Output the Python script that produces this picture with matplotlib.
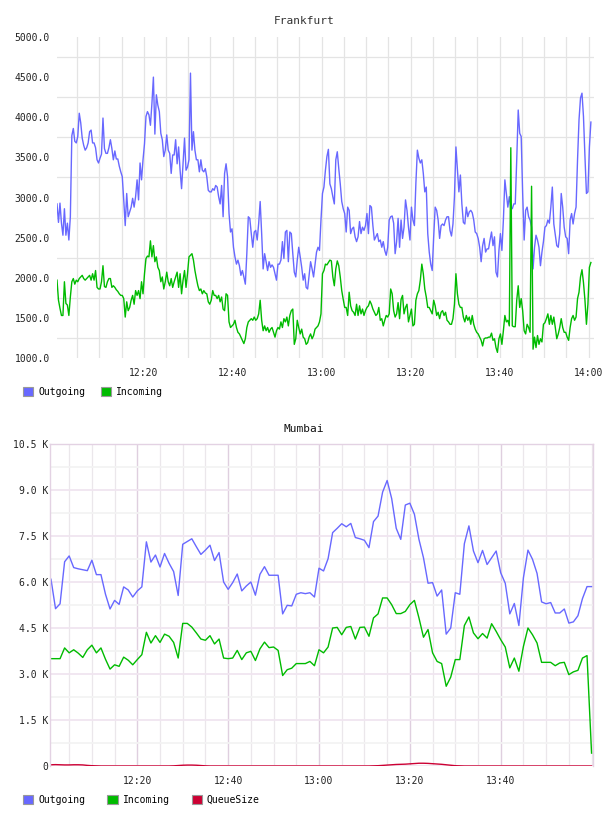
import matplotlib
matplotlib.use("Agg")
import matplotlib.pyplot as plt
import matplotlib.dates as mdates
from matplotlib.patches import Patch
from matplotlib.ticker import FuncFormatter
from datetime import datetime, timedelta
import numpy as np

# Frankfurt, one value every 20 s from 12:00:30 (one row = 5 minutes)
fra_out = [
    2920, 2690, 2930, 2680, 2530, 2860, 2530, 2680, 2470, 2760, 3770, 3860, 3700, 3680,
    3760, 4050, 3930, 3740, 3650, 3590, 3620, 3680, 3820, 3840, 3680, 3680, 3620, 3470, 3430,
    3490, 3540, 3990, 3610, 3550, 3550, 3620, 3720, 3610, 3470, 3580, 3480, 3480, 3390, 3320,
    3260, 2970, 2650, 3050, 2760, 2820, 2880, 2990, 2880, 3010, 3220, 2970, 3430, 3220, 3470,
    3670, 4010, 4070, 4030, 3900, 4170, 4500, 3790, 4280, 4150, 4070, 3800, 3720, 3510, 3590,
    3780, 3590, 3550, 3300, 3530, 3530, 3720, 3420, 3630, 3340, 3110, 3430, 3740, 3340, 3380,
    3470, 4550, 3590, 3820, 3590, 3470, 3470, 3320, 3470, 3340, 3320, 3360, 3260, 3090, 3070,
    3070, 3110, 3090, 3150, 3130, 3010, 2920, 3150, 2760, 3300, 3420, 3260, 2800, 2570, 2610,
    2380, 2260, 2170, 2220, 2150, 2030, 2090, 2010, 1920, 2300, 2760, 2740, 2550, 2380, 2570,
    2590, 2470, 2680, 2950, 2550, 2110, 2300, 2200, 2090, 2200, 2130, 2160, 2130, 2050, 1970,
    2170, 2170, 2220, 2450, 2240, 2570, 2590, 2200, 2570, 2550, 2300, 2070, 2010, 2220, 2380,
    2260, 2130, 1970, 2050, 1880, 1860, 2030, 2200, 2110, 2010, 2170, 2320, 2380, 2340, 2720,
    3050, 3130, 3340, 3510, 3600, 3170, 3110, 3010, 2920, 3470, 3570, 3360, 3170, 2950, 2860,
    2800, 2570, 2880, 2840, 2550, 2610, 2630, 2510, 2450, 2510, 2700, 2550, 2630, 2590, 2650,
    2800, 2550, 2900, 2880, 2650, 2470, 2510, 2550, 2450, 2470, 2380, 2450, 2340, 2280, 2380,
    2720, 2760, 2770, 2680, 2300, 2450, 2740, 2380, 2720, 2490, 2630, 2970, 2840, 2630, 2470,
    2880, 2720, 2650, 3180, 3590, 3490, 3430, 3470, 3300, 3070, 3130, 2550, 2320, 2170, 2090,
    2510, 2880, 2840, 2720, 2490, 2650, 2670, 2650, 2720, 2760, 2760, 2590, 2520, 2670, 3010,
    3630, 3340, 3070, 3280, 2920, 2690, 2670, 2880, 2760, 2820, 2840, 2810, 2720, 2570, 2550,
    2490, 2380, 2200, 2400, 2490, 2320, 2360, 2360, 2470, 2570, 2400, 2510, 2070, 2010, 2340,
    2550, 2340, 2720, 3220, 3050, 2880, 3010, 2880, 2860, 2920, 2920, 3470, 4090, 3800, 3760,
    3050, 2470, 2840, 2880, 2760, 2720, 2630, 2110, 2380, 2530, 2470, 2380, 2150, 2320, 2450,
    2630, 2650, 2720, 2680, 2880, 3130, 2670, 2530, 2400, 2380, 2550, 3050, 2880, 2630, 2510,
    2490, 2300, 2720, 2800, 2670, 2800, 2880, 3470, 3970, 4240, 4300, 4010, 3510, 3050, 3070,
    3630, 3940,
]
fra_in = [
    1970, 1720, 1620, 1530, 1530, 1950, 1680, 1660, 1530, 1760, 1950, 1990, 1920, 1970,
    1950, 1990, 2010, 2030, 1990, 1970, 1990, 2010, 2030, 1970, 2050, 1970, 2090, 1880, 1860,
    1860, 1950, 2150, 1890, 1880, 1950, 1990, 1990, 1880, 1900, 1880, 1850, 1830, 1800, 1780,
    1780, 1740, 1510, 1700, 1590, 1630, 1720, 1780, 1670, 1840, 1780, 1840, 1740, 1950, 1800,
    2050, 2240, 2270, 2260, 2460, 2260, 2400, 2200, 2260, 2130, 2090, 1950, 2010, 1860, 1950,
    2070, 1950, 1900, 1990, 1880, 1950, 2010, 2070, 1880, 2050, 1800, 1970, 2090, 1880, 2050,
    2260, 2280, 2300, 2220, 2090, 1990, 1900, 1840, 1860, 1800, 1840, 1810, 1800, 1700, 1670,
    1720, 1840, 1780, 1780, 1740, 1780, 1700, 1760, 1610, 1590, 1800, 1780, 1450, 1380, 1400,
    1420, 1470, 1380, 1320, 1300, 1260, 1220, 1180, 1240, 1380, 1450, 1470, 1490, 1470, 1510,
    1470, 1490, 1550, 1720, 1470, 1340, 1400, 1340, 1380, 1320, 1360, 1380, 1320, 1260, 1340,
    1380, 1360, 1450, 1380, 1490, 1450, 1510, 1400, 1530, 1590, 1610, 1170, 1240, 1470, 1380,
    1300, 1360, 1260, 1240, 1170, 1190, 1260, 1300, 1240, 1280, 1360, 1380, 1400, 1450, 1550,
    2050, 2090, 2170, 2160, 2190, 2220, 2210, 2010, 1900, 2110, 2210, 2150, 2010, 1840, 1730,
    1630, 1630, 1530, 1820, 1650, 1590, 1570, 1530, 1670, 1530, 1650, 1550, 1610, 1530, 1590,
    1630, 1650, 1710, 1670, 1610, 1570, 1530, 1550, 1630, 1470, 1490, 1400, 1470, 1530, 1510,
    1550, 1860, 1800, 1590, 1510, 1550, 1690, 1490, 1730, 1780, 1550, 1630, 1670, 1450, 1530,
    1610, 1400, 1420, 1720, 1800, 1840, 1970, 2170, 2050, 1860, 1760, 1630, 1630, 1590, 1550,
    1720, 1650, 1530, 1570, 1490, 1570, 1590, 1530, 1570, 1470, 1450, 1420, 1420, 1490, 1670,
    2050, 1800, 1670, 1630, 1630, 1510, 1450, 1530, 1470, 1510, 1420, 1530, 1420, 1360, 1320,
    1300, 1260, 1220, 1150, 1240, 1250, 1250, 1260, 1260, 1310, 1220, 1240, 1130, 1070, 1240,
    1300, 1170, 1340, 1530, 1450, 1470, 1400, 3620, 1400, 1390, 1390, 1720, 1900, 1630, 1740,
    1590, 1340, 1300, 1420, 1380, 1320, 3140, 1110, 1260, 1130, 1280, 1170, 1240, 1200, 1420,
    1440, 1490, 1550, 1420, 1530, 1420, 1510, 1380, 1240, 1300, 1380, 1490, 1380, 1320, 1320,
    1260, 1220, 1380, 1490, 1530, 1470, 1510, 1740, 1820, 2010, 2100, 1940, 1720, 1420, 1670,
    2130, 2190,
]

# Mumbai, one value per minute from 12:01 to 14:00
mum_out = [
    6090, 5130, 5290, 6660, 6850, 6470, 6430, 6400, 6370, 6710,
    6240, 6240, 5600, 5120, 5400, 5270, 5840, 5740, 5510, 5710,
    5840, 7310, 6650, 6880, 6490, 6930, 6610, 6340, 5560, 7230,
    7320, 7410, 7150, 6900, 7040, 7200, 6700, 6960, 6000, 5760,
    5980, 6260, 5710, 5870, 6000, 5570, 6250, 6500, 6220, 6220,
    6220, 4960, 5240, 5220, 5600, 5650, 5620, 5650, 5510, 6450,
    6360, 6760, 7610, 7750, 7900, 7800, 7910, 7450, 7410, 7360,
    7120, 7970, 8150, 8930, 9310, 8720, 7750, 7390, 8510, 8570,
    8210, 7390, 6790, 5960, 5980, 5540, 5740, 4300, 4500, 5650,
    5600, 7250, 7830, 7010, 6630, 7030, 6570, 6790, 7010, 6300,
    5960, 4960, 5300, 4580, 6140, 7040, 6740, 6280, 5350, 5290,
    5330, 4990, 4990, 5120, 4660, 4700, 4900, 5460, 5850, 5850,
]
mum_in = [
    3500, 3500, 3500, 3850, 3690, 3790, 3680, 3540, 3790, 3940,
    3690, 3850, 3480, 3160, 3300, 3250, 3550, 3450, 3300, 3470,
    3630, 4360, 4010, 4250, 4030, 4300, 4230, 4030, 3520, 4650,
    4650, 4530, 4340, 4140, 4100, 4250, 3980, 4140, 3520, 3500,
    3520, 3770, 3470, 3690, 3740, 3440, 3820, 4040, 3860, 3880,
    3770, 2950, 3140, 3190, 3340, 3340, 3340, 3410, 3270, 3790,
    3690, 3880, 4500, 4520, 4280, 4520, 4550, 4140, 4520, 4530,
    4230, 4830, 4960, 5480, 5480, 5260, 4970, 4970, 5040, 5260,
    5400, 4830, 4200, 4450, 3690, 3410, 3340, 2600, 2900, 3470,
    3470, 4580, 4860, 4340, 4150, 4320, 4170, 4640, 4390, 4120,
    3880, 3200, 3520, 3090, 3900, 4500, 4280, 4010, 3380, 3380,
    3380, 3270, 3360, 3380, 2980, 3070, 3120, 3520, 3600, 420,
]
mum_queue = [
    40, 45, 40, 35, 35, 40, 40, 35, 20, 10,
    5, 0, 0, 0, 0, 0, 0, 0, 0, 0,
    0, 0, 0, 0, 0, 0, 0, 5, 15, 25,
    30, 30, 25, 15, 5, 0, 0, 0, 0, 0,
    0, 0, 0, 0, 0, 0, 0, 0, 0, 0,
    0, 0, 0, 0, 0, 0, 0, 0, 0, 0,
    0, 0, 0, 0, 0, 0, 0, 0, 0, 0,
    0, 5, 10, 20, 30, 40, 50, 55, 60, 70,
    80, 90, 90, 85, 75, 65, 55, 40, 25, 10,
    5, 0, 0, 0, 0, 0, 0, 0, 0, 0,
    0, 0, 0, 0, 0, 0, 0, 0, 0, 0,
    0, 0, 0, 0, 0, 0, 0, 0, 0, 0,
]

day = datetime(2000, 1, 1)
noon = day + timedelta(hours=12)


def stamps(start, step, n):
    return [start + i * step for i in range(n)]


def hm(minutes):
    return [noon + timedelta(minutes=m) for m in minutes]


BLUE = "#6868ff"
GREEN = "#00bb00"
RED = "#cc0033"
MONO = "DejaVu Sans Mono"

W, H = 608, 816
fig = plt.figure(figsize=(W / 100, H / 100), dpi=100)


def box(l, t, r, b):
    return [l / W, 1 - b / H, (r - l) / W, (b - t) / H]


# ---- Frankfurt ----
ax1 = fig.add_axes(box(57, 37, 594, 358))
t_fra = stamps(noon + timedelta(seconds=30), timedelta(seconds=20), len(fra_out))
t_fra_in = stamps(noon + timedelta(seconds=30), timedelta(seconds=20), len(fra_in))
ax1.plot(t_fra, fra_out, color=BLUE, lw=1.0)
ax1.plot(t_fra_in, fra_in, color=GREEN, lw=1.0)
ax1.set_xlim(noon + timedelta(seconds=30), noon + timedelta(minutes=121, seconds=12))
ax1.set_ylim(1000, 5000)
ax1.set_yticks(np.arange(1000, 5001, 500))
ax1.set_yticks(np.arange(1250, 5000, 500), minor=True)
ax1.yaxis.set_major_formatter(FuncFormatter(lambda v, p: f"{v:.1f}"))
ax1.set_xticks(hm([20, 40, 60, 80, 100, 120]))
ax1.xaxis.set_minor_locator(mdates.MinuteLocator(byminute=range(0, 60, 5)))
ax1.xaxis.set_major_formatter(mdates.DateFormatter("%H:%M"))
ax1.grid(axis="x", which="both", color="#e4e4e4", lw=0.9)
ax1.grid(axis="y", which="minor", color="#e4e4e4", lw=0.9)
ax1.set_axisbelow(True)
for s in ax1.spines.values():
    s.set_visible(False)
ax1.tick_params(which="both", length=0, labelsize=7, colors="#222222")
ax1.tick_params(axis="y", pad=5)
ax1.tick_params(axis="x", pad=7)

# ---- Mumbai ----
ax2 = fig.add_axes(box(50, 444, 593, 766))
t_mum = stamps(noon + timedelta(minutes=1), timedelta(minutes=1), len(mum_out))
ax2.plot(t_mum, mum_out, color=BLUE, lw=1.0)
ax2.plot(t_mum[:len(mum_in)], mum_in, color=GREEN, lw=1.0)
ax2.plot(t_mum[:len(mum_queue)], mum_queue, color=RED, lw=1.0)
ax2.set_xlim(noon + timedelta(seconds=47), noon + timedelta(minutes=120, seconds=19))
ax2.set_ylim(0, 10500)
ax2.set_yticks(np.arange(0, 10501, 1500))
ax2.set_yticks(np.arange(750, 10500, 1500), minor=True)
ax2.yaxis.set_major_formatter(FuncFormatter(lambda v, p: "0" if v == 0 else f"{v / 1000:.1f} K"))
ax2.set_xticks(hm([20, 40, 60, 80, 100]))
ax2.xaxis.set_minor_locator(mdates.MinuteLocator(byminute=range(0, 60, 5)))
ax2.xaxis.set_major_formatter(mdates.DateFormatter("%H:%M"))
ax2.grid(axis="x", which="major", color="#dfcfdf", lw=1.0)
ax2.grid(axis="x", which="minor", color="#ebe7eb", lw=0.9)
ax2.grid(axis="y", which="major", color="#f0e5f0", lw=1.3)
ax2.grid(axis="y", which="minor", color="#f3f3f3", lw=1.3)
ax2.set_axisbelow(True)
for name, s in ax2.spines.items():
    s.set_color("#e3d2e3")
    s.set_linewidth(1.0)
ax2.spines["bottom"].set_visible(False)
ax2.tick_params(which="both", length=0, labelsize=7, colors="#222222")
ax2.tick_params(axis="y", pad=1)
ax2.tick_params(axis="x", pad=7)

for ax in (ax1, ax2):
    for lab in ax.get_xticklabels() + ax.get_yticklabels():
        lab.set_family(MONO)

# titles
fig.text(0.5, 1 - 20.5 / H, "Frankfurt", ha="center", va="center",
         family=MONO, fontsize=8, color="#333333")
fig.text(0.5, 1 - 429 / H, "Mumbai", ha="center", va="center",
         family=MONO, fontsize=8, color="#111111")


def swatch(color, label):
    return Patch(facecolor=color, edgecolor="#999999", lw=0.8, label=label)


leg_kw = dict(loc="center left", frameon=False, prop={"family": MONO, "size": 7},
              handlelength=1.05, handleheight=1.05, handletextpad=0.5,
              borderpad=0, borderaxespad=0)
fig.legend(handles=[swatch(BLUE, "Outgoing"), swatch(GREEN, "Incoming")],
           bbox_to_anchor=(23 / W, 1 - 392 / H), ncol=2, columnspacing=1.65, **leg_kw)
fig.legend(handles=[swatch(BLUE, "Outgoing"), swatch(GREEN, "Incoming"),
                    swatch(RED, "QueueSize")],
           bbox_to_anchor=(23 / W, 1 - 800 / H), ncol=3, columnspacing=2.3, **leg_kw)

fig.savefig("out.png", dpi=100)
